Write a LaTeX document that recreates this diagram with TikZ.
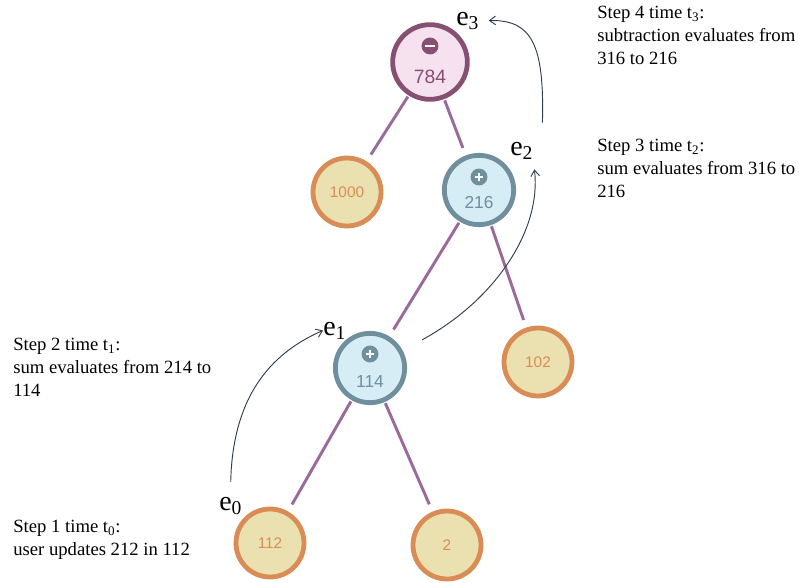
\documentclass[tikz,border=0pt]{standalone}
\usepackage{fontspec}
\setmainfont{Liberation Serif}
\setsansfont{Liberation Sans}
\usetikzlibrary{positioning,arrows.meta}

\definecolor{diffborder}{HTML}{875073}
\definecolor{difffill}{HTML}{F6E1EE}
\definecolor{sumborder}{HTML}{6F8F9C}
\definecolor{sumfill}{HTML}{D6EDF6}
\definecolor{leafborder}{HTML}{D98C55}
\definecolor{leaffill}{HTML}{EBE1B0}
\definecolor{treeline}{HTML}{9A6A9A}
\definecolor{timeline}{HTML}{2C3E50}

\newcommand{\evt}[1]{e\textsubscript{#1}}
\newcommand{\tstep}[1]{t\textsubscript{#1}}

\tikzset{
  opnode/.style={circle, line width=3.6pt, inner sep=0pt, minimum size=52pt},
  diffnode/.style={opnode, draw=diffborder, fill=difffill, minimum size=56pt},
  sumnode/.style={opnode, draw=sumborder, fill=sumfill},
  leafnode/.style={opnode, draw=leafborder, fill=leaffill, text=leafborder,
    font=\sffamily\fontsize{11.5}{11.5}\selectfont, minimum size=51pt},
  signnode/.style={circle, inner sep=0pt, minimum size=12.7pt},
  plussign/.style={signnode, fill=sumborder, path picture={
    \draw[white, line width=1.3pt] ([xshift=-3.2pt]path picture bounding box.center) -- ([xshift=3.2pt]path picture bounding box.center);
    \draw[white, line width=1.3pt] ([yshift=-3.2pt]path picture bounding box.center) -- ([yshift=3.2pt]path picture bounding box.center);}},
  minussign/.style={signnode, fill=diffborder, path picture={
    \draw[white, line width=1.4pt] ([xshift=-3.4pt]path picture bounding box.center) -- ([xshift=3.4pt]path picture bounding box.center);}},
  valtext/.style={inner sep=0pt, font=\sffamily\fontsize{13}{13}\selectfont},
  treeedge/.style={draw=treeline, line width=2.2pt, shorten <=1pt, shorten >=6pt},
  evtlabel/.style={inner sep=0pt, anchor=base west, font=\fontsize{21}{21}\selectfont},
  steptext/.style={inner sep=0pt, anchor=north west, align=left, font=\fontsize{14}{17.25}\selectfont},
  timearrow/.style={-{Straight Barb[length=4.5pt,width=6.5pt]}, draw=timeline, line width=0.7pt},
}

\begin{document}
\begin{tikzpicture}[x=0.75pt,y=-0.75pt]
    \useasboundingbox (0,0) rectangle (799,582);

    % subtraction node
    \node[diffnode] (n784) at (430,62) {};
    \node[minussign] (s784) at ([shift={(0,-16)}]n784.center) {};
    \node[valtext, text=diffborder, font=\sffamily\fontsize{14.5}{14.5}\selectfont] (v784) at ([shift={(0,15)}]n784.center) {784};

    % sum nodes
    \node[sumnode] (n216) at (479,190) {};
    \node[plussign] (s216) at ([shift={(0,-13)}]n216.center) {};
    \node[valtext, text=sumborder] (v216) at ([shift={(0,13)}]n216.center) {216};

    \node[sumnode] (n114) at (370,368) {};
    \node[plussign] (s114) at ([shift={(0,-14)}]n114.center) {};
    \node[valtext, text=sumborder] (v114) at ([shift={(0,14)}]n114.center) {114};

    % leaves
    \node[leafnode] (n1000) at (347,192) {1000};
    \node[leafnode] (n102) at (538,362) {102};
    \node[leafnode] (n112) at (270,543) {112};
    \node[leafnode] (n2) at (447,545) {2};

    % tree edges
    \draw[treeedge] (n784) -- (n1000);
    \draw[treeedge] (n784) -- (n216);
    \draw[treeedge] (n216) -- (n114);
    \draw[treeedge] (n216) -- (n102);
    \draw[treeedge] (n114) -- (n112);
    \draw[treeedge] (n114) -- (n2);

    % events
    \node[evtlabel] (e0) at (219,510) {\evt{0}};
    \node[evtlabel] (e1) at (323,335) {\evt{1}};
    \node[evtlabel] (e2) at (510,155) {\evt{2}};
    \node[evtlabel] (e3) at (456,25) {\evt{3}};

    % propagation arrows
    \draw[timearrow] ([yshift=11pt]e0.north) .. controls +(2,-92) and +(-46,20) .. (e1.west);
    \draw[timearrow] ([shift={(26,-2)}]n114.north east) .. controls +(73,-40) and +(7,61) .. ([shift={(1,10)}]e2.south east);
    \draw[timearrow] ([shift={(9,-19)}]e2.north east) .. controls +(2,-78) and +(43,-1) .. ([xshift=7pt]e3.east);

    % step texts
    \node[steptext] (t4) at (597,6) {Step 4 time \tstep{3}:\\subtraction evaluates from\\316 to 216};
    \node[steptext] (t3) at (597,139) {Step 3 time \tstep{2}:\\sum evaluates from 316 to\\216};
    \node[steptext] (t2) at (13,338) {Step 2 time \tstep{1}:\\sum evaluates from 214 to\\114};
    \node[steptext] (t1) at (13,520) {Step 1 time \tstep{0}:\\user updates 212 in 112};
\end{tikzpicture}
\end{document}
